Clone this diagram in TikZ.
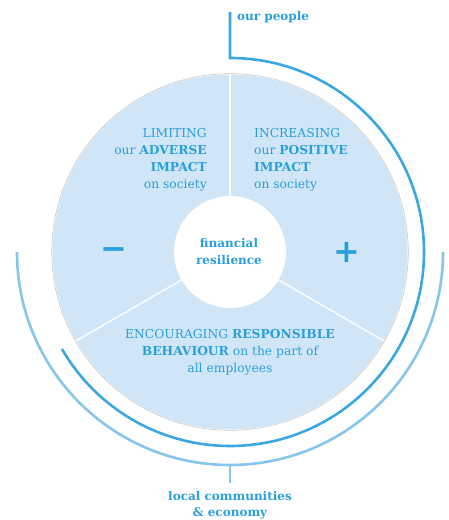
\documentclass[tikz,border=0pt]{standalone}
\usepackage{fontspec}
\setmainfont{DejaVu Serif}
\newfontfamily\symfont{DejaVu Sans}
\definecolor{fillblue}{HTML}{D0E6F7}
\definecolor{textblue}{HTML}{2A9FDA}
\definecolor{arcblue}{HTML}{3BA7E0}
\definecolor{outerblue}{HTML}{86C5EC}
\tikzset{
  lbl/.style={text=textblue, inner sep=0pt, font=\fontsize{12.3}{17}\selectfont},
  sym/.style={text=textblue, inner sep=0pt, font=\symfont\bfseries\fontsize{32}{32}\selectfont},
  divider/.style={white, line width=1.3pt},
}
\begin{document}
\begin{tikzpicture}[x=1pt,y=1pt]
\useasboundingbox (0,0) rectangle (448,520);
\coordinate (C) at (230,268);
% main disc
\fill[fillblue] (C) circle (177.5);
\draw[gray!45, line width=0.6pt] (C) circle (178.3);
\foreach \a in {90,210,330} \draw[divider] (C) -- ++(\a:177.5);
\node[circle, fill=white, minimum size=112pt, inner sep=0pt] (core) at (C) {};
\node[lbl, font=\bfseries\fontsize{12}{17}\selectfont, align=center, anchor=base] (fin) at (229,255) {financial\\resilience};
% segment texts
\node[lbl, align=right, anchor=base east] (left) at (207,331) {LIMITING\\our \textbf{ADVERSE}\\\textbf{IMPACT}\\on society};
\node[lbl, align=left, anchor=base west] (right) at (254,331) {INCREASING\\our \textbf{POSITIVE}\\\textbf{IMPACT}\\on society};
\node[lbl, align=center, anchor=base] (bottom) at (230,147) {ENCOURAGING \textbf{RESPONSIBLE}\\\textbf{BEHAVIOUR} on the part of\\all employees};
\node[sym] (minus) at (113.5,266) {−};
\node[sym] (plus) at (346.5,268) {+};
% inner blue arc to "our people"
\coordinate (pTop) at (230,508);
\draw[arcblue, line width=2.6pt] (pTop) -- (230,462) arc[start angle=90, end angle=-150, radius=194];
\node[lbl, font=\bfseries\fontsize{12}{14}\selectfont, anchor=base west] (people) at (237,499) {our people};
% outer arc to "local communities"
\coordinate (cBot) at (230,37);
\draw[outerblue, line width=2.6pt] (17,268) arc[start angle=180, end angle=360, radius=213];
\draw[outerblue, line width=2.6pt] (230,55) -- (cBot);
\node[lbl, font=\bfseries\fontsize{12}{16}\selectfont, align=center, anchor=base] (local) at (230,4) {local communities\\\& economy};
\end{tikzpicture}
\end{document}
